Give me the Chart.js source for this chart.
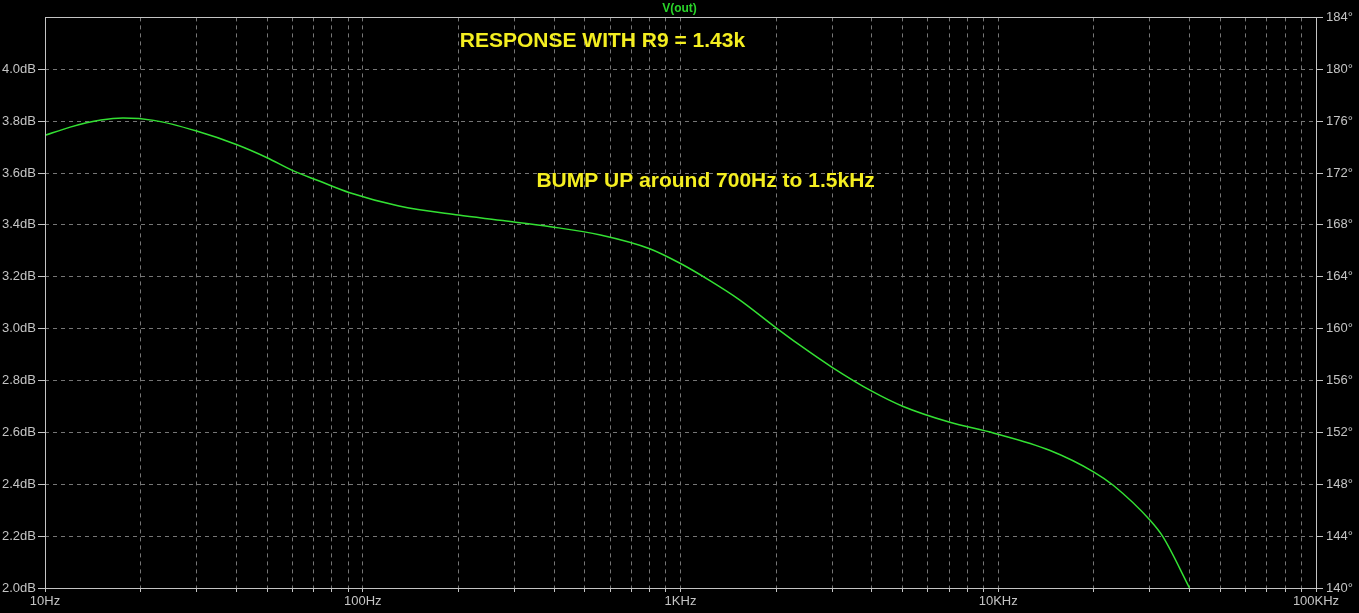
<!DOCTYPE html>
<html>
<head>
<meta charset="utf-8">
<script src="https://cdn.jsdelivr.net/npm/chart.js@4/dist/chart.umd.min.js"></script>
<style>
  html, body { margin: 0; padding: 0; background: #000; }
  #wrap { width: 1359px; height: 613px; }
</style>
</head>
<body>
<div id="wrap"><canvas id="grafico"></canvas></div>
<script>
// frequency (Hz) and magnitude (dB)
var freqs = [10, 12, 15, 17.6, 22, 30, 40, 50, 60, 73, 91, 130, 200, 270, 390, 560, 800, 1000, 1230, 1530, 2000, 2350, 3000, 4000, 5000, 7000, 9700, 14500, 20000, 23000, 30000, 33000, 40000];
var magDb = [3.745, 3.777, 3.804, 3.812, 3.803, 3.762, 3.71, 3.659, 3.61, 3.569, 3.524, 3.473, 3.438, 3.418, 3.393, 3.361, 3.308, 3.251, 3.187, 3.112, 3.003, 2.94, 2.851, 2.759, 2.701, 2.640, 2.597, 2.531, 2.447, 2.396, 2.262, 2.197, 2.0];

var decadeValues = [10, 100, 1000, 10000, 100000];
var decadeLabels = ['10Hz', '100Hz', '1KHz', '10KHz', '100KHz'];
var dbTicks = [2.0, 2.2, 2.4, 2.6, 2.8, 3.0, 3.2, 3.4, 3.6, 3.8, 4.0];
var phaseTicks = [140, 144, 148, 152, 156, 160, 164, 168, 172, 176, 180, 184];

var notaTextos = ['RESPONSE WITH R9 = 1.43k', 'BUMP UP around 700Hz to 1.5kHz'];
var notaFreq = [202, 352];
var notaDb = [4.086, 3.546];

// 1..9 in each decade for the log grid
var xTicks = [];
for (var d = 0; d < decadeValues.length - 1; d++) {
  for (var m = 1; m < 10; m++) xTicks.push(decadeValues[d] * m);
}
xTicks.push(decadeValues[decadeValues.length - 1]);

var gris = '#767676';
var claro = '#c4c4c4';
var fuente = { family: 'Liberation Sans', size: 13 };

var puntos = freqs.map(function (f, i) { return { x: f, y: magDb[i] }; });

var marco = {
  id: 'marco',
  beforeDraw: function (chart) {
    var ctx = chart.ctx;
    ctx.save();
    ctx.fillStyle = '#000';
    ctx.fillRect(0, 0, chart.width, chart.height);
    ctx.restore();
  },
  afterDatasetsDraw: function (chart) {
    var a = chart.chartArea, ctx = chart.ctx;
    ctx.save();
    ctx.strokeStyle = claro;
    ctx.lineWidth = 1;
    ctx.strokeRect(Math.round(a.left) + 0.5, Math.round(a.top) + 0.5, Math.round(a.right - a.left), Math.round(a.bottom - a.top));
    // notes
    ctx.fillStyle = '#f4ee20';
    ctx.font = 'bold 21px "Liberation Sans"';
    ctx.textAlign = 'left';
    ctx.textBaseline = 'alphabetic';
    var sx = chart.scales.x, sy = chart.scales.y;
    for (var i = 0; i < notaTextos.length; i++) {
      ctx.fillText(notaTextos[i], sx.getPixelForValue(notaFreq[i]), sy.getPixelForValue(notaDb[i]));
    }
    ctx.restore();
  }
};

new Chart(document.getElementById('grafico'), {
  type: 'line',
  data: {
    datasets: [{
      label: 'V(out)',
      data: puntos,
      borderColor: '#33e033',
      borderWidth: 1.5,
      pointRadius: 0,
      cubicInterpolationMode: 'monotone',
      fill: false
    }]
  },
  options: {
    responsive: true,
    maintainAspectRatio: false,
    animation: false,
    layout: { padding: 0 },
    plugins: {
      legend: { display: false },
      tooltip: { enabled: false },
      title: {
        display: true,
        text: 'V(out)',
        color: '#2ad42a',
        font: { family: 'Liberation Sans', size: 12 },
        padding: { top: 1, bottom: 2 }
      }
    },
    scales: {
      x: {
        type: 'logarithmic',
        min: 10,
        max: 100000,
        afterBuildTicks: function (s) { s.ticks = xTicks.map(function (v) { return { value: v }; }); },
        afterFit: function (s) { s.height = 25; },
        ticks: {
          autoSkip: false,
          maxRotation: 0,
          color: claro,
          font: fuente,
          padding: 2,
          callback: function (v) {
            var k = decadeValues.indexOf(v);
            return k >= 0 ? decadeLabels[k] : '';
          }
        },
        grid: { color: gris, tickColor: claro, tickLength: 4 },
        border: { display: false, dash: [4, 4] }
      },
      y: {
        type: 'linear',
        position: 'left',
        min: 2.0,
        max: 4.2,
        afterBuildTicks: function (s) { s.ticks = dbTicks.map(function (v) { return { value: v }; }); },
        afterFit: function (s) { s.width = 45; },
        ticks: {
          color: claro,
          font: fuente,
          padding: 2,
          callback: function (v) { return v.toFixed(1) + 'dB'; }
        },
        grid: { color: gris, tickColor: claro, tickLength: 7 },
        border: { display: false, dash: [4, 4] }
      },
      y2: {
        type: 'linear',
        position: 'right',
        min: 140,
        max: 184,
        afterBuildTicks: function (s) { s.ticks = phaseTicks.map(function (v) { return { value: v }; }); },
        afterFit: function (s) { s.width = 43; },
        ticks: {
          color: claro,
          font: fuente,
          padding: 3,
          callback: function (v) { return v + '\u00b0'; }
        },
        grid: { drawOnChartArea: false, tickColor: claro, tickLength: 7 },
        border: { display: false }
      }
    }
  },
  plugins: [marco]
});
</script>
</body>
</html>
